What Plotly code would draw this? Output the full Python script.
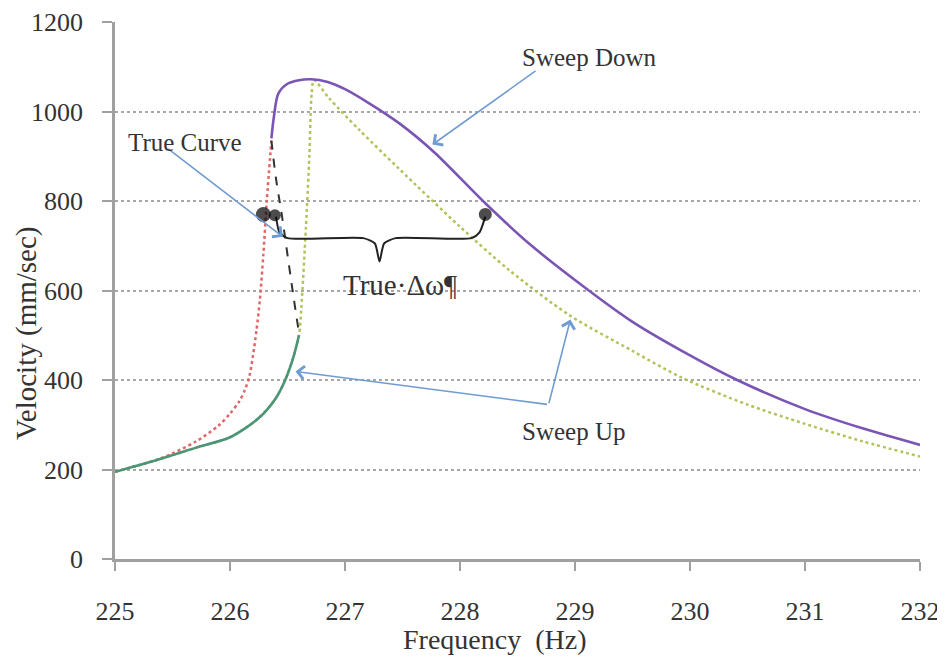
import plotly.graph_objects as go

# ---------------- data ----------------
sweep_down_x = [226.36, 226.38, 226.42, 226.50, 226.60, 226.70, 226.85, 227.00, 227.20, 227.47,
                227.78, 228.22, 228.60, 229.12, 229.50, 230.00, 230.41, 231.00, 231.50, 232.00]
sweep_down_y = [940, 985, 1040, 1062, 1070, 1072, 1066, 1050, 1020, 974,
                908, 795, 705, 600, 530, 455, 400, 335, 292, 255]

drop_x = [225.00, 225.40, 225.70, 225.90, 226.00, 226.08, 226.13, 226.17, 226.20,
          226.23, 226.26, 226.29, 226.32, 226.36]
drop_y = [195, 225, 262, 298, 325, 352, 378, 410, 455,
          510, 580, 680, 800, 935]

sweep_up_x = [225.00, 225.37, 225.72, 226.00, 226.25, 226.40, 226.48, 226.55, 226.60]
sweep_up_y = [195, 222, 250, 272, 315, 360, 400, 450, 500]

jump_up_x = [225.00, 225.37, 225.72, 226.00, 226.25, 226.40, 226.48, 226.55, 226.60, 226.62, 226.66,
             226.69, 226.71, 226.73, 226.86, 227.12, 227.47, 227.99, 228.43, 228.95, 229.50,
             229.93, 230.50, 231.00, 231.50, 232.00]
jump_up_y = [195, 222, 250, 272, 315, 360, 400, 450, 500, 560, 740,
             900, 1040, 1070, 1030, 960, 872, 745, 645, 545, 465,
             405, 345, 302, 263, 229]

true_x = [226.36, 226.40, 226.45, 226.49, 226.55, 226.60]
true_y = [935, 850, 770, 698, 590, 505]

dots_x = [226.29, 226.39, 228.22]
dots_y = [770, 768, 770]

brace_x = [226.40, 226.43, 226.50, 227.16, 227.26, 227.30, 227.34, 227.44, 228.10, 228.17, 228.22]
brace_y = [765, 730, 717, 717, 705, 665, 705, 717, 717, 730, 765]

x_ticks = [225, 226, 227, 228, 229, 230, 231, 232]
y_ticks = [0, 200, 400, 600, 800, 1000, 1200]

labels = ["True Curve", "Sweep Down", "True·Δω¶", "Sweep Up"]
labels_x = [225.61, 229.13, 227.48, 228.99]
labels_y = [930, 1120, 613, 284]
labels_size = [25, 25, 29, 25]

# arrows: tail -> head
arrow_tail_x = [225.45, 228.67, 228.77, 228.77]
arrow_tail_y = [919, 1093, 345, 345]
arrow_head_x = [226.46, 227.76, 226.57, 228.96]
arrow_head_y = [720, 926, 419, 535]

FONT = "Liberation Serif"

fig = go.Figure()

fig.add_trace(go.Scatter(x=drop_x, y=drop_y, mode="lines",
                         line=dict(color="#e06666", width=2.5, dash="dot", shape="spline", smoothing=0.8),
                         hoverinfo="skip", showlegend=False))
fig.add_trace(go.Scatter(x=jump_up_x, y=jump_up_y, mode="lines",
                         line=dict(color="#b3c35c", width=2.5, dash="dot", shape="spline", smoothing=0.8),
                         hoverinfo="skip", showlegend=False))
fig.add_trace(go.Scatter(x=sweep_down_x, y=sweep_down_y, mode="lines",
                         line=dict(color="#7b55b3", width=2.6, shape="spline", smoothing=0.8),
                         hoverinfo="skip", showlegend=False))
fig.add_trace(go.Scatter(x=sweep_up_x, y=sweep_up_y, mode="lines",
                         line=dict(color="#4a9478", width=2.6, shape="spline", smoothing=0.8),
                         hoverinfo="skip", showlegend=False))
fig.add_trace(go.Scatter(x=true_x, y=true_y, mode="lines",
                         line=dict(color="#333333", width=2, dash="dash", shape="spline"),
                         hoverinfo="skip", showlegend=False))
fig.add_trace(go.Scatter(x=brace_x, y=brace_y, mode="lines",
                         line=dict(color="#222222", width=2, shape="spline", smoothing=0.6),
                         hoverinfo="skip", showlegend=False))
fig.add_trace(go.Scatter(x=dots_x, y=dots_y, mode="markers",
                         marker=dict(color="#000000", size=[15, 12, 13], line=dict(width=0)),
                         hoverinfo="skip", showlegend=False))

annotations = []
for tx, ty, hx, hy in zip(arrow_tail_x, arrow_tail_y, arrow_head_x, arrow_head_y):
    annotations.append(dict(x=hx, y=hy, ax=tx, ay=ty, xref="x", yref="y", axref="x", ayref="y",
                            text="", showarrow=True, arrowhead=4, arrowsize=1.6,
                            arrowwidth=1.6, arrowcolor="#6f9bd2", standoff=0, startstandoff=0))
for t, lx, ly, ls in zip(labels, labels_x, labels_y, labels_size):
    annotations.append(dict(x=lx, y=ly, xref="x", yref="y", text=t, showarrow=False,
                            font=dict(family=FONT, size=ls, color="#333333"),
                            xanchor="center", yanchor="middle"))
annotations.append(dict(x=-0.11, y=0.42, xref="paper", yref="paper", text="Velocity (mm/sec)",
                        textangle=-90, showarrow=False, xanchor="center", yanchor="middle",
                        font=dict(family=FONT, size=29, color="#333333")))
annotations.append(dict(x=0.472, y=-0.15, xref="paper", yref="paper", text="Frequency  (Hz)",
                        showarrow=False, xanchor="center", yanchor="middle",
                        font=dict(family=FONT, size=28, color="#333333")))

# page has an 8px body margin, so the figure is sized to fit the window
fig.update_layout(
    width=937, height=650,
    margin=dict(l=107, r=25, t=14, b=99, autoexpand=False),
    paper_bgcolor="white", plot_bgcolor="white",
    showlegend=False,
    annotations=annotations,
    xaxis=dict(range=[225, 232], tickvals=x_ticks, ticktext=[str(v) for v in x_ticks],
               showgrid=False, zeroline=False, showline=True, linecolor="#a0a0a0", linewidth=2.5,
               ticks="outside", ticklen=9, tickwidth=1.5, tickcolor="#a0a0a0",
               ticklabelstandoff=18, automargin=False,
               tickfont=dict(family=FONT, size=26, color="#333333")),
    yaxis=dict(range=[0, 1200], tickvals=y_ticks, ticktext=[str(v) for v in y_ticks],
               showgrid=True, gridcolor="#a8a8a8", gridwidth=1.5, griddash="dot",
               zeroline=False, showline=True, linecolor="#a0a0a0", linewidth=2.5,
               ticks="outside", ticklen=10, tickwidth=1.5, tickcolor="#a0a0a0",
               ticklabelstandoff=14, automargin=False,
               tickfont=dict(family=FONT, size=26, color="#333333")),
)

fig.write_html("out.html")
